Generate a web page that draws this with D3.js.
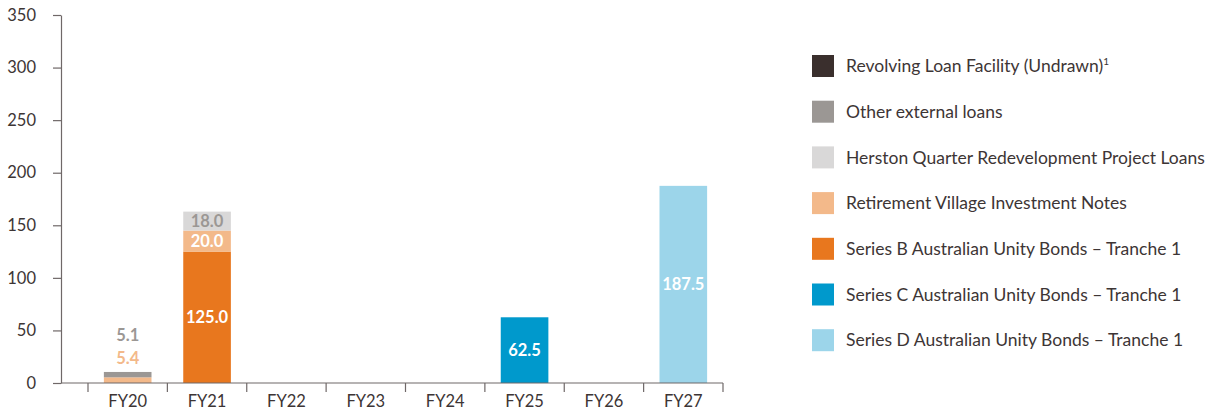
<!DOCTYPE html>
<html>
<head>
<meta charset="utf-8">
<script src="https://cdn.jsdelivr.net/npm/d3@7"></script>
<style>
	body { margin: 0; background: #fff; }
	text { font-family: Lato, "Open Sans", sans-serif; fill: #3d3535; }
</style>
</head>
<body>
<div id="viz"></div>
<script>
// categories
const years = ["FY20", "FY21", "FY22", "FY23", "FY24", "FY25", "FY26", "FY27"];

// series, bottom of stack first
const seriesNames = [
	"Series B Australian Unity Bonds – Tranche 1",
	"Series C Australian Unity Bonds – Tranche 1",
	"Series D Australian Unity Bonds – Tranche 1",
	"Retirement Village Investment Notes",
	"Herston Quarter Redevelopment Project Loans",
	"Other external loans",
	"Revolving Loan Facility (Undrawn)",
];
const seriesB = [0, 125.0, 0, 0, 0, 0, 0, 0];
const seriesC = [0, 0, 0, 0, 0, 62.5, 0, 0];
const seriesD = [0, 0, 0, 0, 0, 0, 0, 187.5];
const retirementNotes = [5.4, 20.0, 0, 0, 0, 0, 0, 0];
const herston = [0, 18.0, 0, 0, 0, 0, 0, 0];
const otherLoans = [5.1, 0, 0, 0, 0, 0, 0, 0];
const revolving = [0, 0, 0, 0, 0, 0, 0, 0];
const seriesValues = [seriesB, seriesC, seriesD, retirementNotes, herston, otherLoans, revolving];

// legend order (top to bottom)
const legendOrder = [6, 5, 4, 3, 0, 1, 2];

const yTicks = [0, 50, 100, 150, 200, 250, 300, 350];

const colors = ["#e8771e", "#0099cc", "#9cd5ea", "#f3b98a", "#d9d8d8", "#9b9794", "#3a2f2d"];
// label colour inside the segment
const labelColors = ["#fff", "#fff", "#fff", "#fff", "#9b9794", "#9b9794", "#fff"];

const width = 1208, height = 411;

const svg = d3.select("#viz")
	.append("svg")
	.attr("width", width)
	.attr("height", height);

const x = d3.scaleBand().domain(years).range([88, 723]).paddingInner(0.4).paddingOuter(0.2);
const y = d3.scaleLinear().domain([0, 350]).range([383, 15]);

// build table for stacking
const data = years.map((yr, i) => {
	const row = { year: yr };
	seriesNames.forEach((s, j) => (row[s] = seriesValues[j][i]));
	return row;
});
const stacked = d3.stack().keys(seriesNames)(data);

// bars
svg.append("g")
	.selectAll("g")
	.data(stacked)
	.join("g")
	.attr("fill", (d, i) => colors[i])
	.selectAll("rect")
	.data((d) => d.filter((p) => p[1] - p[0] > 0))
	.join("rect")
	.attr("x", (d) => x(d.data.year))
	.attr("y", (d) => y(d[1]))
	.attr("width", x.bandwidth())
	.attr("height", (d) => y(d[0]) - y(d[1]));

// value labels
const labelG = svg.append("g").attr("font-weight", "bold").attr("font-size", 16.5);
years.forEach((yr) => {
	let above = 0;
	const top = d3.max(stacked, (s) => s.find((p) => p.data.year === yr)[1]);
	stacked.forEach((s, i) => {
		const p = s.find((q) => q.data.year === yr);
		const v = p[1] - p[0];
		if (v <= 0) return;
		const h = y(p[0]) - y(p[1]);
		let cy, fill;
		if (h >= 15) {
			cy = (y(p[0]) + y(p[1])) / 2;
			fill = labelColors[i];
		} else {
			// too thin: stack labels above the bar
			cy = y(top) - 14 - above * 23;
			above++;
			fill = colors[i];
		}
		labelG.append("text")
			.attr("x", x(yr) + x.bandwidth() / 2)
			.attr("y", cy)
			.attr("dy", "0.35em")
			.attr("text-anchor", "middle")
			.style("fill", fill)
			.text(v.toFixed(1));
	});
});

// y axis
const yAxis = svg.append("g")
	.attr("transform", "translate(61,0)")
	.call(d3.axisLeft(y).tickValues(yTicks).tickSize(8).tickPadding(17).tickSizeOuter(0));
yAxis.selectAll("text").attr("font-size", 16.5);

// x axis: labels centered, ticks at band boundaries
const xAxis = svg.append("g").attr("transform", "translate(0,383)");
xAxis.call(d3.axisBottom(x).tickSize(0).tickPadding(12));
xAxis.select(".domain").attr("d", "M61,0H723");
xAxis.selectAll("text").attr("font-size", 16.5);
xAxis.selectAll(".edge")
	.data(d3.range(years.length + 1))
	.join("line")
	.attr("x1", (i) => 88 + i * x.step())
	.attr("x2", (i) => 88 + i * x.step())
	.attr("y1", 0)
	.attr("y2", 9);

svg.selectAll(".domain, .tick line, line").attr("stroke", "#6f6868").attr("stroke-width", 1.2);
svg.selectAll(".tick text").style("fill", "#3d3535");

// legend
const legend = svg.append("g").attr("transform", "translate(812,55)");
const item = legend.selectAll("g")
	.data(legendOrder)
	.join("g")
	.attr("transform", (d, i) => `translate(0,${i * 45.7})`);
item.append("rect")
	.attr("width", 22)
	.attr("height", 22)
	.attr("fill", (d) => colors[d]);
const lt = item.append("text")
	.attr("x", 34)
	.attr("y", 11)
	.attr("dy", "0.35em")
	.attr("font-size", 17.5)
	.text((d) => seriesNames[d]);
lt.filter((d) => d === 6)
	.append("tspan")
	.attr("font-size", 10)
	.attr("dy", -7)
	.text("1");
</script>
</body>
</html>
